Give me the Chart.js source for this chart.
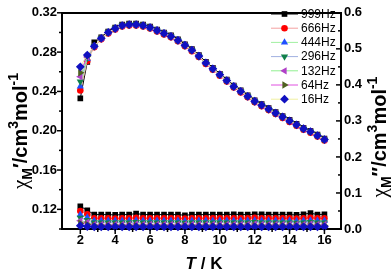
<!DOCTYPE html>
<html><head><meta charset="utf-8">
<script src="https://cdn.jsdelivr.net/npm/chart.js@4/dist/chart.umd.min.js"></script>
<style>html,body{margin:0;padding:0;background:#fff;}#wrap{width:392px;height:273px;}</style>
</head><body><div id="wrap"><canvas id="c" width="392" height="273"></canvas></div>
<script>
// ---- data ----
const temps = [2.0,2.4,2.8,3.2,3.6,4.0,4.4,4.8,5.2,5.6,6.0,6.4,6.8,7.2,7.6,8.0,8.4,8.8,9.2,9.6,10.0,10.4,10.8,11.2,11.6,12.0,12.4,12.8,13.2,13.6,14.0,14.4,14.8,15.2,15.6,16.0];
const freqLabels = ['999Hz','666Hz','444Hz','296Hz','132Hz','64Hz','16Hz'];

// chi' (left axis)
const chiReal999 = [0.233,0.270,0.290,0.295,0.301,0.305,0.308,0.309,0.309,0.308,0.306,0.303,0.300,0.297,0.293,0.288,0.283,0.277,0.270,0.264,0.258,0.252,0.246,0.241,0.236,0.231,0.227,0.223,0.219,0.215,0.211,0.207,0.203,0.200,0.196,0.192];
const chiReal666 = [0.241,0.271,0.285,0.293,0.299,0.303,0.306,0.307,0.307,0.306,0.304,0.301,0.298,0.295,0.291,0.286,0.281,0.275,0.268,0.262,0.256,0.250,0.244,0.239,0.234,0.229,0.225,0.221,0.217,0.213,0.209,0.205,0.201,0.198,0.194,0.190];
const chiReal444 = [0.245,0.273,0.286,0.294,0.300,0.304,0.307,0.308,0.308,0.307,0.305,0.302,0.299,0.296,0.292,0.287,0.282,0.276,0.269,0.263,0.257,0.251,0.245,0.240,0.235,0.230,0.226,0.222,0.218,0.214,0.210,0.206,0.202,0.199,0.195,0.191];
const chiReal296 = [0.250,0.274,0.286,0.294,0.300,0.304,0.307,0.308,0.308,0.307,0.305,0.302,0.299,0.296,0.292,0.287,0.282,0.276,0.269,0.263,0.257,0.251,0.245,0.240,0.235,0.230,0.226,0.222,0.218,0.214,0.210,0.206,0.202,0.199,0.195,0.191];
const chiReal132 = [0.255,0.275,0.286,0.294,0.300,0.304,0.307,0.308,0.308,0.307,0.305,0.302,0.299,0.296,0.292,0.287,0.282,0.276,0.269,0.263,0.257,0.251,0.245,0.240,0.235,0.230,0.226,0.222,0.218,0.214,0.210,0.206,0.202,0.199,0.195,0.191];
const chiReal64  = [0.259,0.276,0.286,0.294,0.300,0.304,0.307,0.308,0.308,0.307,0.305,0.302,0.299,0.296,0.292,0.287,0.282,0.276,0.269,0.263,0.257,0.251,0.245,0.240,0.235,0.230,0.226,0.222,0.218,0.214,0.210,0.206,0.202,0.199,0.195,0.191];
const chiReal16  = [0.265,0.277,0.286,0.294,0.300,0.304,0.307,0.308,0.308,0.307,0.305,0.302,0.299,0.296,0.292,0.287,0.282,0.276,0.269,0.263,0.257,0.251,0.245,0.240,0.235,0.230,0.226,0.222,0.218,0.214,0.210,0.206,0.202,0.199,0.195,0.191];

// chi'' (right axis)
const chiImag999 = [0.063,0.052,0.040,0.040,0.040,0.039,0.040,0.040,0.043,0.040,0.040,0.040,0.040,0.040,0.040,0.038,0.040,0.040,0.040,0.040,0.040,0.040,0.041,0.040,0.040,0.041,0.041,0.040,0.040,0.040,0.040,0.039,0.041,0.044,0.040,0.041];
const chiImag666 = [0.050,0.041,0.030,0.030,0.030,0.029,0.030,0.030,0.031,0.030,0.030,0.030,0.030,0.030,0.030,0.029,0.030,0.030,0.030,0.030,0.030,0.030,0.030,0.030,0.030,0.031,0.030,0.030,0.030,0.030,0.030,0.029,0.030,0.031,0.030,0.030];
const chiImag444 = [0.040,0.032,0.023,0.023,0.023,0.023,0.023,0.023,0.024,0.023,0.023,0.023,0.023,0.023,0.023,0.022,0.023,0.023,0.023,0.023,0.023,0.023,0.023,0.023,0.023,0.024,0.023,0.023,0.023,0.023,0.023,0.022,0.023,0.024,0.023,0.023];
const chiImag296 = [0.031,0.025,0.018,0.018,0.018,0.018,0.018,0.018,0.019,0.018,0.018,0.018,0.018,0.018,0.018,0.017,0.018,0.018,0.018,0.018,0.018,0.018,0.018,0.018,0.018,0.019,0.018,0.018,0.018,0.018,0.018,0.017,0.018,0.019,0.018,0.018];
const chiImag132 = [0.023,0.019,0.013,0.013,0.013,0.013,0.013,0.013,0.014,0.013,0.013,0.013,0.013,0.013,0.013,0.013,0.013,0.013,0.013,0.013,0.013,0.013,0.013,0.013,0.013,0.014,0.013,0.013,0.013,0.013,0.013,0.013,0.013,0.014,0.013,0.013];
const chiImag64  = [0.016,0.013,0.010,0.010,0.010,0.010,0.010,0.010,0.010,0.010,0.010,0.010,0.010,0.010,0.010,0.009,0.010,0.010,0.010,0.010,0.010,0.010,0.010,0.010,0.010,0.010,0.010,0.010,0.010,0.010,0.010,0.009,0.010,0.010,0.010,0.010];
const chiImag16  = [0.009,0.007,0.006,0.006,0.006,0.006,0.006,0.006,0.006,0.006,0.006,0.006,0.006,0.006,0.006,0.006,0.006,0.006,0.006,0.006,0.006,0.006,0.006,0.006,0.006,0.006,0.006,0.006,0.006,0.006,0.006,0.006,0.006,0.006,0.006,0.006];

// ticks
const xTickValues = [2,4,6,8,10,12,14,16];
const xMinorTicks = [3,5,7,9,11,13,15];
const leftTickValues = [0.12,0.16,0.20,0.24,0.28,0.32];
const leftMinorTicks = [0.10,0.14,0.18,0.22,0.26,0.30];
const rightTickValues = [0,0.1,0.2,0.3,0.4,0.5,0.6];
const rightMinorTicks = [0.05,0.15,0.25,0.35,0.45,0.55];

// ---- styles ----
const markerColors = ['#000000','#ff0000','#1f4fff','#10804a','#b040c8','#4f6020','#1010c0'];
const lineColors   = ['#000000','#f4a0a0','#a0f0a0','#a0b0e0','#90f090','#e050e0','#f0f0a0'];
const pointStyles  = ['rect','circle','triangle','triangle','triangle','triangle','rectRot'];
const pointRots    = [0,0,0,180,-90,90,0];
const pointRadii   = [4.0,3.3,4.2,4.2,4.2,4.2,4.4];

const realSeries = [chiReal999,chiReal666,chiReal444,chiReal296,chiReal132,chiReal64,chiReal16];
const imagSeries = [chiImag999,chiImag666,chiImag444,chiImag296,chiImag132,chiImag64,chiImag16];

function mk(series, i, axis){
  return {
    label: freqLabels[i] + (axis==='y2' ? ' χ″' : ' χ′'),
    data: temps.map((t,k)=>({x:t,y:series[k]})),
    yAxisID: axis,
    borderColor: lineColors[i], borderWidth: 1, tension: 0, showLine: true,
    pointStyle: pointStyles[i], pointRotation: pointRots[i], pointRadius: pointRadii[i],
    pointBackgroundColor: markerColors[i], pointBorderWidth: 0, pointBorderColor: markerColors[i],
    order: 6 - i, clip: 4
  };
}
const datasets = [];
for (let i=0;i<7;i++){ datasets.push(mk(realSeries[i],i,'y')); datasets.push(mk(imagSeries[i],i,'y2')); }

const FONT = '"Liberation Sans", Arial, sans-serif';
const tickFont = {family: FONT, size: 13, weight: 'bold'};

function rich(ctx, segs, x, y, rot){
  ctx.save(); ctx.translate(x,y); ctx.rotate(rot);
  let total=0;
  segs.forEach(s=>{ctx.font=s.font; s.w=ctx.measureText(s.t).width; total+=s.w;});
  let cx=-total/2; ctx.textBaseline='alphabetic'; ctx.textAlign='left'; ctx.fillStyle='#000';
  segs.forEach(s=>{ctx.font=s.font; ctx.fillText(s.t,cx,s.dy||0); cx+=s.w;});
  ctx.restore();
}

const decor = {
  id:'decor',
  afterDatasetsDraw(chart){
    const ctx=chart.ctx, ca=chart.chartArea, sx=chart.scales.x, sy=chart.scales.y, sy2=chart.scales.y2;
    ctx.save(); ctx.strokeStyle='#000'; ctx.lineWidth=1.5;
    const line=(a,b,c,d)=>{ctx.beginPath();ctx.moveTo(a,b);ctx.lineTo(c,d);ctx.stroke();};
    leftTickValues.forEach(v=>{const p=sy.getPixelForValue(v); line(ca.left-5,p,ca.left,p);});
    leftMinorTicks.forEach(v=>{const p=sy.getPixelForValue(v); line(ca.left-3,p,ca.left,p);});
    rightTickValues.forEach(v=>{const p=sy2.getPixelForValue(v); line(ca.right-5,p,ca.right,p);});
    rightMinorTicks.forEach(v=>{const p=sy2.getPixelForValue(v); line(ca.right-3,p,ca.right,p);});
    xTickValues.forEach(v=>{const p=sx.getPixelForValue(v); line(p,ca.bottom,p,ca.bottom+5);});
    xMinorTicks.forEach(v=>{const p=sx.getPixelForValue(v); line(p,ca.bottom,p,ca.bottom+3);});
    // legend
    const lx1=271, lx2=298, mx=284.5, tx=301, y0=14, dy=14.2;
    for(let i=0;i<7;i++){
      const y=y0+i*dy;
      ctx.strokeStyle=lineColors[i]; ctx.lineWidth=1; line(lx1,y,lx2,y);
      ctx.fillStyle=markerColors[i];
      Chart.helpers.drawPoint(ctx,{pointStyle:pointStyles[i],rotation:pointRots[i],radius:pointRadii[i],borderWidth:0},mx,y);
      ctx.fillStyle='#000'; ctx.font='12px '+FONT; ctx.textBaseline='middle'; ctx.textAlign='left';
      ctx.fillText(freqLabels[i],tx,y+0.5);
    }
    ctx.restore();
    // axis titles
    const big='bold 20px '+FONT, small='bold 14px '+FONT, chi='21px "Liberation Serif", "DejaVu Serif", serif';
    rich(ctx,[{t:'χ',font:chi},{t:'M',font:small,dy:5},{t:'′',font:big},{t:'/cm',font:big},{t:'3',font:small,dy:-9},{t:'mol',font:big},{t:'-1',font:small,dy:-9}],27,131,-Math.PI/2);
    rich(ctx,[{t:'χ',font:chi},{t:'M',font:small,dy:5},{t:'″',font:big},{t:'/cm',font:big},{t:'3',font:small,dy:-9},{t:'mol',font:big},{t:'-1',font:small,dy:-9}],386,137,-Math.PI/2);
    rich(ctx,[{t:'T',font:'italic bold 17px '+FONT},{t:' / K',font:'bold 17px '+FONT}],204,269,0);
  }
};

new Chart(document.getElementById('c'),{
  type:'scatter',
  data:{datasets},
  plugins:[decor],
  options:{
    responsive:false, animation:false, devicePixelRatio:1,
    layout:{padding:{top:7,left:0,right:0,bottom:0}},
    plugins:{legend:{display:false},tooltip:{enabled:false}},
    scales:{
      x:{type:'linear',position:'bottom',min:0.95,max:16.95,
         afterBuildTicks:s=>{s.ticks=xTickValues.map(v=>({value:v}));},
         afterFit:s=>{s.height=44;},
         ticks:{font:tickFont,color:'#000',padding:4,maxRotation:0,autoSkip:false,callback:v=>String(v)},
         grid:{display:false,drawTicks:false},border:{display:true,color:'#000',width:2}},
      x2:{type:'linear',position:'top',min:0.95,max:16.95,
         afterFit:s=>{s.height=0;},
         ticks:{display:false},grid:{display:false,drawTicks:false},border:{display:true,color:'#000',width:2}},
      y:{type:'linear',position:'left',min:0.10,max:0.32,
         afterBuildTicks:s=>{s.ticks=leftTickValues.map(v=>({value:v}));},
         afterFit:s=>{s.width=62;},
         ticks:{font:tickFont,color:'#000',padding:5,autoSkip:false,callback:v=>v.toFixed(2)},
         grid:{display:false,drawTicks:false},border:{display:true,color:'#000',width:2}},
      y2:{type:'linear',position:'right',min:0,max:0.6,
         afterBuildTicks:s=>{s.ticks=rightTickValues.map(v=>({value:v}));},
         afterFit:s=>{s.width=51;},
         ticks:{font:tickFont,color:'#000',padding:3,autoSkip:false,callback:v=>v.toFixed(1)},
         grid:{display:false,drawTicks:false},border:{display:true,color:'#000',width:2}}
    }
  }
});
</script></body></html>
